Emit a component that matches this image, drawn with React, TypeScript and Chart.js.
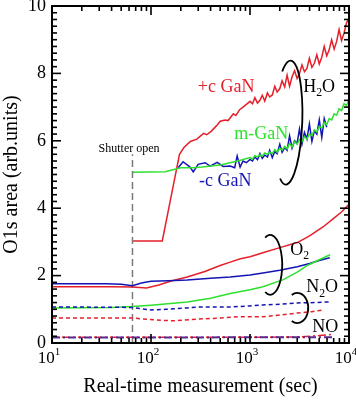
import React, { useEffect, useRef } from 'react';
import { Chart, registerables } from 'chart.js';
Chart.register(...registerables);

const RED = '#e5202a';
const GREEN = '#2ee02e';
const BLUE = '#1414b4';
const PURPLE = '#5a2a90';
const GRAY = '#7a7a7a';
const FONT = '"Liberation Serif", "Times New Roman", serif';

const X_MIN = 10;
const X_MAX = 10000;
const Y_MIN = 0;
const Y_MAX = 10;
const X_TICKS = [10, 100, 1000, 10000];
const X_TICK_EXP = ['1', '2', '3', '4'];

// ---- H2O exposure ----
const T_PC_H2O = [65, 130, 194, 215, 250, 290, 340, 365, 405, 460, 500, 560, 600, 680, 720, 790, 850, 920,
  1000, 1060, 1120, 1190, 1260, 1330, 1410, 1500, 1580, 1680, 1780, 1880, 2000, 2110, 2240, 2370, 2510, 2660,
  2820, 2990, 3160, 3350, 3550, 3760, 3980, 4220, 4470, 4730, 5010, 5310, 5620, 5960, 6310, 6680, 7080, 7500,
  7940, 8410, 8910, 9440, 10000];
const V_PC_H2O = [3.03, 3.03, 5.6, 5.8, 5.98, 6.05, 6.22, 6.18, 6.28, 6.45, 6.58, 6.62, 6.6, 6.8, 6.75, 6.93, 7.0, 7.08,
  7.17, 7.1, 7.28, 7.12, 7.2, 7.35, 7.18, 7.42, 7.3, 7.36, 7.62, 7.45, 7.55, 7.78, 7.6, 7.95, 7.62, 7.9,
  8.08, 7.85, 8.0, 8.25, 8.05, 8.15, 8.45, 8.18, 8.3, 8.55, 8.28, 8.48, 8.8, 8.52, 8.7, 9.0, 8.72, 8.95,
  9.3, 8.98, 9.2, 9.5, 9.62];

const T_M_H2O = [65, 140, 170, 200, 260, 330, 400, 500, 630, 800,
  1000, 1060, 1120, 1190, 1260, 1330, 1410, 1500, 1580, 1680, 1780, 1880, 2000, 2110, 2240, 2370, 2510, 2660,
  2820, 2990, 3160, 3350, 3550, 3760, 3980, 4220, 4470, 4730, 5010, 5310, 5620, 5960, 6310, 6680, 7080, 7500,
  7940, 8410, 8910, 9440, 10000];
const V_M_H2O = [5.07, 5.08, 5.15, 5.2, 5.2, 5.22, 5.25, 5.28, 5.35, 5.42,
  5.5, 5.46, 5.56, 5.52, 5.58, 5.55, 5.64, 5.6, 5.66, 5.62, 5.74, 5.66, 5.78, 5.72, 5.83, 5.76, 5.92, 5.82,
  5.98, 5.9, 6.04, 5.98, 6.12, 6.05, 6.2, 6.15, 6.32, 6.26, 6.42, 6.38, 6.55, 6.48, 6.66, 6.62, 6.8, 6.76,
  6.95, 6.9, 7.1, 7.05, 7.2];

const T_MC_H2O = [188, 211, 248, 267, 299, 352, 396, 466, 536, 631, 700, 742, 795, 850, 920,
  1000, 1060, 1120, 1190, 1260, 1330, 1410, 1500, 1580, 1680, 1780, 1880, 2000, 2110, 2240, 2370, 2510, 2660,
  2820, 2990, 3160, 3350, 3550, 3760, 3980, 4220, 4470, 4730, 5010, 5310, 5620, 5960];
const V_MC_H2O = [5.2, 5.38, 5.22, 5.08, 5.3, 5.35, 5.25, 5.36, 5.24, 5.25, 5.2, 5.55, 5.22, 5.4, 5.35,
  5.45, 5.4, 5.52, 5.44, 5.62, 5.48, 5.58, 5.52, 5.72, 5.5, 5.68, 5.62, 5.9, 5.66, 5.8, 5.72, 6.15, 5.78,
  6.0, 5.92, 6.35, 5.9, 6.25, 6.05, 6.5, 5.98, 6.3, 6.2, 6.62, 6.1, 6.66, 6.4];

// ---- O2 exposure ----
const T_PC_O2 = [10, 40, 65, 90, 120, 160, 232, 350, 500, 631, 800, 1000, 1350, 2000, 3000, 4000, 5500, 7000, 8500, 10000];
const V_PC_O2 = [1.67, 1.67, 1.66, 1.63, 1.72, 1.84, 1.96, 2.12, 2.3, 2.4, 2.5, 2.56, 2.68, 2.83, 2.98, 3.18, 3.45, 3.7, 3.9, 4.12];

const T_MC_O2 = [10, 35, 50, 65, 80, 100, 150, 232, 400, 631, 1000, 1350, 2000, 3000, 4000, 5000, 6400];
const V_MC_O2 = [1.76, 1.76, 1.74, 1.7, 1.78, 1.83, 1.85, 1.87, 1.92, 1.96, 2.02, 2.08, 2.16, 2.26, 2.36, 2.45, 2.53];

const T_M_O2 = [10, 40, 65, 100, 232, 400, 631, 1000, 1350, 2170, 3000, 3786, 5000, 6457];
const V_M_O2 = [1.04, 1.05, 1.08, 1.12, 1.22, 1.33, 1.47, 1.58, 1.67, 1.88, 2.1, 2.3, 2.47, 2.62];

// ---- N2O / NO exposure ----
const T_N2O = [10, 50, 65, 100, 140, 232, 300, 631, 1000, 1350, 2000, 3000, 4500, 6400];
const V_N2O = [1.07, 1.06, 1.05, 0.98, 1.0, 1.04, 1.07, 1.07, 1.1, 1.13, 1.15, 1.19, 1.2, 1.22];

const T_NO = [10, 65, 130, 170, 300, 500, 742, 1350, 2000, 3000, 4200, 5500];
const V_NO = [0.74, 0.74, 0.67, 0.66, 0.71, 0.74, 0.78, 0.78, 0.83, 0.89, 0.93, 0.98];

const T_BASE_A = [10, 100, 1000, 7000];
const V_BASE_A = [0.16, 0.16, 0.17, 0.17];
const T_BASE_B = [10, 1000, 3000, 5000, 7000];
const V_BASE_B = [0.17, 0.17, 0.18, 0.22, 0.26];

const T_SHUTTER = [65, 65];
const V_SHUTTER = [0, 5.6];

// ---- annotations (data coordinates) ----
const NOTES = [
  { parts: [{ t: '+c GaN' }], t: 574, v: 7.59, color: RED, align: 'center', size: 18 },
  { parts: [{ t: 'm-GaN' }], t: 1297, v: 6.19, color: GREEN, align: 'center', size: 18 },
  { parts: [{ t: '-c GaN' }], t: 561, v: 4.79, color: BLUE, align: 'center', size: 18 },
  { parts: [{ t: 'H' }, { t: '2', sub: true }, { t: 'O' }], t: 3451, v: 7.59, color: '#000', align: 'left', size: 18 },
  { parts: [{ t: 'Shutter open' }], t: 60, v: 5.77, color: '#000', align: 'center', size: 12 },
  { parts: [{ t: 'O' }, { t: '2', sub: true }], t: 2547, v: 2.74, color: '#000', align: 'left', size: 18 },
  { parts: [{ t: 'N' }, { t: '2', sub: true }, { t: 'O' }], t: 3698, v: 1.64, color: '#000', align: 'left', size: 18 },
  { parts: [{ t: 'NO' }], t: 4256, v: 0.48, color: '#000', align: 'left', size: 18 },
];

const BRACKETS = [
  { t: 2432, v: 6.54, rx: 14, ry: 62, start: -125, end: 115, rot: 0.04 },
  { t: 1600, v: 2.32, rx: 12, ry: 30, start: -115, end: 115, rot: 0 },
  { t: 3000, v: 1.04, rx: 11, ry: 15, start: -120, end: 120, rot: 0 },
];

const pts = (ts: number[], vs: number[]) => ts.map((t, i) => ({ x: t, y: vs[i] }));

function drawRich(ctx: CanvasRenderingContext2D, parts: any[], x: number, y: number, size: number, color: string, align: string) {
  const small = size * 0.65;
  const widths = parts.map((p) => {
    ctx.font = `${p.sub || p.sup ? small : size}px ${FONT}`;
    return ctx.measureText(p.t).width;
  });
  const total = widths.reduce((s, w) => s + w, 0);
  let cx = align === 'center' ? x - total / 2 : align === 'right' ? x - total : x;
  ctx.fillStyle = color;
  ctx.textBaseline = 'middle';
  ctx.textAlign = 'left';
  parts.forEach((p, i) => {
    ctx.font = `${p.sub || p.sup ? small : size}px ${FONT}`;
    const dy = p.sub ? size * 0.32 : p.sup ? -size * 0.38 : 0;
    ctx.fillText(p.t, cx, y + dy);
    cx += widths[i];
  });
}

const overlayPlugin = {
  id: 'overlay',
  afterDraw(chart: any) {
    const ctx: CanvasRenderingContext2D = chart.ctx;
    const a = chart.chartArea;
    const xs = chart.scales.x;
    const ys = chart.scales.y;
    ctx.save();
    ctx.fillStyle = '#000000';
    const tw = 1.6;
    for (let d = X_MIN; d < X_MAX; d *= 10) {
      for (let m = 2; m <= 9; m++) {
        const px = xs.getPixelForValue(d * m);
        ctx.fillRect(px - tw / 2, a.bottom - 5, tw, 5);
        ctx.fillRect(px - tw / 2, a.top, tw, 5);
      }
    }
    X_TICKS.forEach((v) => {
      const px = xs.getPixelForValue(v);
      ctx.fillRect(px - tw / 2, a.bottom - 9, tw, 9);
      ctx.fillRect(px - tw / 2, a.top, tw, 9);
    });
    for (let i = 0; i <= 50; i++) {
      const py = ys.getPixelForValue(Y_MIN + i * 0.2);
      const len = i % 10 === 0 ? 9 : 5;
      ctx.fillRect(a.left, py - tw / 2, len, tw);
      ctx.fillRect(a.right - len, py - tw / 2, len, tw);
    }
    ctx.strokeStyle = '#000000';
    ctx.lineWidth = 2;
    ctx.setLineDash([]);
    ctx.strokeRect(a.left, a.top, a.right - a.left, a.bottom - a.top);

    X_TICKS.forEach((v, i) => {
      const px = xs.getPixelForValue(v);
      drawRich(ctx, [{ t: '10' }, { t: X_TICK_EXP[i], sup: true }], px - 3, a.bottom + 16, 17, '#000', 'center');
    });

    ctx.lineWidth = 1.8;
    BRACKETS.forEach((b) => {
      const cx = xs.getPixelForValue(b.t);
      const cy = ys.getPixelForValue(b.v);
      ctx.beginPath();
      ctx.ellipse(cx, cy, b.rx, b.ry, b.rot, (b.start * Math.PI) / 180, (b.end * Math.PI) / 180);
      ctx.stroke();
    });

    NOTES.forEach((n) => {
      drawRich(ctx, n.parts, xs.getPixelForValue(n.t), ys.getPixelForValue(n.v), n.size, n.color, n.align);
    });
    ctx.restore();
  },
};

export default function App() {
  const ref = useRef<HTMLCanvasElement>(null);
  useEffect(() => {
    if (!ref.current) return;
    const line = (data: any, color: string, extra: any = {}) => ({
      data, borderColor: color, backgroundColor: color, borderWidth: 1.5, pointRadius: 0, fill: false, tension: 0, ...extra,
    });
    const chart = new Chart(ref.current, {
      type: 'line',
      data: {
        datasets: [
          line(pts(T_BASE_A, V_BASE_A), PURPLE, { borderDash: [8, 3, 2, 3], borderWidth: 2 }),
          line(pts(T_BASE_B, V_BASE_B), RED, { borderDash: [8, 3, 2, 3], borderWidth: 1.5, borderDashOffset: 6 }),
          line(pts(T_NO, V_NO), RED, { borderDash: [4, 3] }),
          line(pts(T_N2O, V_N2O), BLUE, { borderDash: [4, 3] }),
          line(pts(T_M_O2, V_M_O2), GREEN),
          line(pts(T_MC_O2, V_MC_O2), BLUE),
          line(pts(T_PC_O2, V_PC_O2), RED),
          line(pts(T_SHUTTER, V_SHUTTER), GRAY, { borderDash: [7, 4], borderWidth: 1.5 }),
          line(pts(T_M_H2O, V_M_H2O), GREEN),
          line(pts(T_MC_H2O, V_MC_H2O), BLUE),
          line(pts(T_PC_H2O, V_PC_H2O), RED),
        ],
      },
      options: {
        animation: false,
        responsive: true,
        maintainAspectRatio: false,
        layout: { padding: { top: 6, right: 7, left: 0, bottom: 0 } },
        plugins: { legend: { display: false }, tooltip: { enabled: false } },
        scales: {
          x: {
            type: 'logarithmic',
            min: X_MIN,
            max: X_MAX,
            grid: { display: false, drawTicks: false },
            border: { display: false },
            ticks: { display: false },
            afterBuildTicks: (s: any) => { s.ticks = X_TICKS.map((v) => ({ value: v })); },
            afterFit: (s: any) => { s.height = 57; s.paddingLeft = 0; s.paddingRight = 0; },
            title: { display: true, text: 'Real-time measurement (sec)', color: '#000', font: { family: FONT, size: 20 }, padding: { top: 0, bottom: 1 } },
          },
          y: {
            min: Y_MIN,
            max: Y_MAX,
            grid: { display: false, drawTicks: false },
            border: { display: false },
            ticks: { stepSize: 2, color: '#000', font: { family: FONT, size: 18 }, padding: 6 },
            afterFit: (s: any) => { s.width = 52; s.paddingTop = 0; s.paddingBottom = 0; },
            title: { display: true, text: 'O1s area (arb.units)', color: '#000', font: { family: FONT, size: 20 }, padding: { top: 0, bottom: 0 } },
          },
        },
      } as any,
      plugins: [overlayPlugin],
    });
    return () => chart.destroy();
  }, []);
  return (
    <div style={{ position: 'absolute', left: 0, top: 0, width: 356, height: 400, background: '#fff' }}>
      <canvas ref={ref} />
    </div>
  );
}
